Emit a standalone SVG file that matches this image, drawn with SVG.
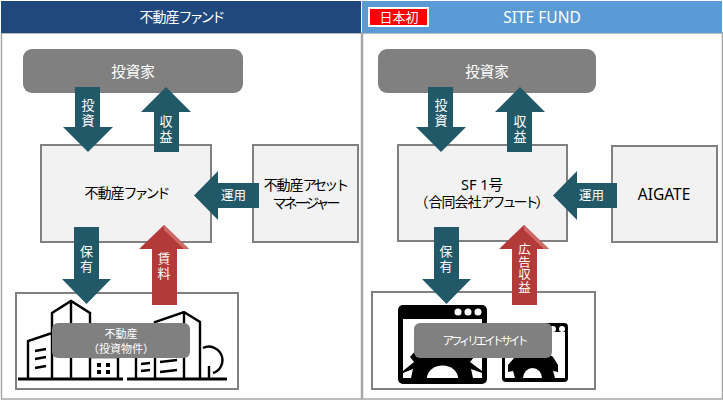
<svg xmlns="http://www.w3.org/2000/svg" width="723" height="400" viewBox="0 0 723 400">
<style>
text{font-family:"Noto Sans","Noto Sans CJK JP",sans-serif;text-anchor:middle}
.panel{fill:#fff;stroke:#a6a6a6;stroke-width:1.5}
.grey{fill:#808080}
.box{fill:#f2f2f2;stroke:#808080;stroke-width:2}
.frame{fill:#fff;stroke:#808080;stroke-width:2}
.teal{fill:#215968}
.red{fill:#b23a38}
.bev{fill:#cf6a66}
.w{fill:#fff}
.f15{font-size:14.500px}
.f14{font-size:14px;fill:#000}
.f12{font-size:12.500px}
.f11{font-size:11px}
.kj{letter-spacing:-1px}
.ka{letter-spacing:-3px}
.v{font-size:13px;fill:#fff;writing-mode:vertical-rl;letter-spacing:2px}
.ln{fill:none;stroke:#000;stroke-width:2.400}
.ic{fill:#000}
.hole{fill:#fff}
</style>
<g id="panels">
<rect class="panel" x="1.500" y="33" width="360" height="366"/>
<rect class="panel" x="362.500" y="33" width="360" height="366"/>
</g>
<g id="header-left"><rect x="1" y="1" width="360" height="32" fill="#1f497d"/><text class="w" x="181" y="22" style="font-size:14px"><tspan class="kj">不動産</tspan><tspan class="ka">ファンド</tspan></text></g>
<g id="header-right"><rect x="362" y="1" width="360" height="32" fill="#5b9bd5"/><text class="w" x="542" y="23" style="font-size:15.500px">SITE FUND</text></g>
<g id="badge"><rect x="369" y="8" width="59" height="18" fill="#f00" stroke="#fff" stroke-width="2"/><text class="w" x="399" y="22" style="font-size:13px">日本初</text></g>

<g id="investor-left"><rect class="grey" x="23" y="49" width="220" height="44" rx="9"/><text class="w f15" x="133" y="77">投資家</text></g>
<g id="fund-left"><rect class="box" x="41" y="145" width="170" height="97"/><text class="f14" x="126" y="198"><tspan class="kj">不動産</tspan><tspan class="ka">ファンド</tspan></text></g>
<g id="manager-left"><rect class="box" x="253" y="145" width="105" height="97"/><text class="f14" x="305" y="190"><tspan class="kj">不動産</tspan><tspan class="ka">アセット</tspan></text><text class="f14" x="305" y="208"><tspan class="ka">マネージャー</tspan></text></g>
<g id="property-left">
<rect class="frame" x="16" y="293" width="222" height="96"/>
<g class="ln">
<path d="M18 379H123M127 379H227" stroke-width="2.800"/>
<path d="M28 379V341L52 333M52 379V313L71 301L90 313V379M71 301V379"/>
<path d="M35 351L46 349M35 359L46 357M35 368L46 366"/>
<path d="M90 357H118V379"/>
<path d="M136 379V355M155 379V322L184 312L200 322V379M184 312V379"/>
<path d="M141 364L150 363M141 371L150 370M160 362L177 360M160 372L177 370"/>
<path d="M203 348A13.500 13.500 0 1 1 213 373M209 366V379"/>
</g>
<path d="M97 363h4v4h-4zM106 363h4v4h-4zM97 370h4v4h-4zM106 370h4v4h-4z" class="ic"/>
<rect class="grey" x="52" y="323" width="138" height="35" rx="6"/>
<text class="w f11" x="121" y="338">不動産</text><text class="w f11" x="121" y="353">（投資物件）</text>
</g>

<g id="investor-right"><rect class="grey" x="378" y="49" width="218" height="44" rx="9"/><text class="w f15" x="487" y="77">投資家</text></g>
<g id="fund-right"><rect class="box" x="398" y="145" width="169" height="96"/><text class="f15" x="482" y="190" fill="#000">SF 1号</text><text class="f14" x="482" y="207">（<tspan class="kj">合同会社</tspan><tspan class="ka">アフュート</tspan>）</text></g>
<g id="aigate"><rect class="box" x="612" y="146" width="105" height="96"/><text x="664" y="200" style="font-size:15.500px" fill="#000">AIGATE</text></g>
<g id="site-right">
<rect class="frame" x="372" y="292" width="223" height="97"/>
<rect class="ic" x="398" y="305" width="89" height="79" rx="5"/>
<rect class="hole" x="403" y="319" width="79" height="59"/>
<path class="ic" d="M411 378L413 369L403 373L403 371L414 362L410 357L416 350H468L474 357L470 362L482 371V373L471 369L473 378Z"/>
<path class="hole" d="M427 378A15.500 12.500 0 0 1 458 378Z"/>
<circle class="hole" cx="458" cy="312" r="3.500"/><circle class="hole" cx="468" cy="312" r="3.500"/><circle class="hole" cx="478" cy="312" r="3.500"/>
<rect class="ic" x="502" y="323" width="66" height="59" rx="4"/>
<rect class="hole" x="505" y="332" width="60" height="46"/>
<path class="ic" d="M515 378L513 371L508 372L508 365L514 358L520 352H546L553 357L558 365V372L553 371L555 378Z"/>
<path class="hole" d="M523 378A9.500 10 0 0 1 542 378Z"/>
<circle class="hole" cx="553" cy="329" r="3"/><circle class="hole" cx="562" cy="329" r="3"/>
<rect class="grey" x="414" y="323" width="138" height="35" rx="6"/>
<text class="w" x="484" y="345" style="font-size:11.500px;letter-spacing:-3.200px">アフィリエイトサイト</text>
</g>

<g id="connectors">
<path class="teal" d="M75 87H100V127H113L88 152L63 127H75Z"/>
<path class="teal" d="M166 87L191 112H179V152H154V112H141Z"/>
<path class="teal" d="M194 195.500L218 171V183H259V208H218V220Z"/>
<path class="teal" d="M74 227H99V279H111L86.500 304L62 279H74Z"/>
<path class="red" d="M164 225L189 249H177V305H152V249H139Z"/>
<path class="bev" d="M164 225L189 249H184L164 230Z"/>
<path class="teal" d="M428 87H453V127H466L441 152L416 127H428Z"/>
<path class="teal" d="M520 87L545 112H532V152H507V112H495Z"/>
<path class="teal" d="M553 195.500L577 171V183H617V208H577V220Z"/>
<path class="teal" d="M434 227H459V279H471L446.500 304L422 279H434Z"/>
<path class="red" d="M524 225L549 249H537V305H512V249H499Z"/>
<path class="bev" d="M524 225L549 249H544L524 230Z"/>
<text class="v" x="87.500" y="114">投資</text>
<text class="v" x="165.500" y="130">収益</text>
<text class="w f12" x="233.500" y="200">運用</text>
<text class="v" x="86" y="260">保有</text>
<text class="v" x="163.500" y="266.500">賃料</text>
<text class="v" x="440.500" y="114">投資</text>
<text class="v" x="519.500" y="130">収益</text>
<text class="w f12" x="591.500" y="200">運用</text>
<text class="v" x="445.500" y="260">保有</text>
<text class="v" x="523.500" y="268" style="letter-spacing:0;font-size:12.500px">広告収益</text>
</g>
</svg>
